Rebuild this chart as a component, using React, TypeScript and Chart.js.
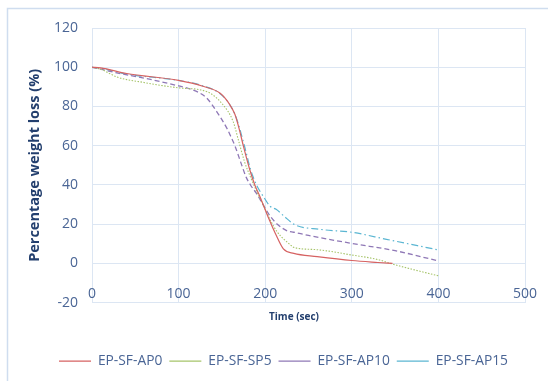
import React, { useEffect, useRef } from "react";
import { Chart, registerables } from "chart.js";

Chart.register(...registerables);

const seriesNames = ["EP-SF-AP0", "EP-SF-SP5", "EP-SF-AP10", "EP-SF-AP15"];

const ap0Time = [0, 10, 40, 100, 128, 148, 159, 165, 170, 175, 182, 188, 194, 198, 204, 212, 221, 233, 260, 300, 330, 347];
const ap0Loss = [100, 99.7, 96.8, 93.3, 90.3, 86.7, 81, 76, 68.5, 59.5, 48, 40, 34, 29.6, 23, 15, 7.4, 5.1, 3.5, 1.5, 0.5, 0];

const sp5Time = [0, 10, 29, 59, 100, 133, 151, 163, 169, 176, 184, 191, 198, 206, 214, 229, 233, 260, 300, 330, 347, 370, 400];
const sp5Loss = [100, 99, 95, 92.3, 89.5, 87.5, 81, 72.3, 63, 52, 43, 36, 29.6, 22, 16, 9.5, 8.2, 7, 4.3, 2, -0.3, -3, -6.3];

const ap10Time = [0, 30, 60, 100, 113, 132, 144, 156, 160, 165, 173, 178, 183, 191, 198, 206, 214, 226, 233, 250, 300, 350, 399];
const ap10Loss = [100, 97, 94.5, 90.5, 89, 84.5, 77.4, 68.7, 65, 60, 50, 44, 40, 35, 29.6, 24, 20, 16.5, 15.9, 14.3, 10.2, 6.5, 1.4];

const ap15Time = [0, 10, 40, 100, 128, 148, 159, 166, 176, 183, 190, 198, 206, 213, 222, 234, 263, 300, 340, 401];
const ap15Loss = [100, 99.5, 96.5, 93.3, 90.5, 86.5, 81, 75, 60, 48, 40, 34, 29, 27.5, 24, 19.8, 17.4, 15.9, 12.3, 6.8];

const xTicks = [0, 100, 200, 300, 400, 500];
const yTicks = [-20, 0, 20, 40, 60, 80, 100, 120];

const xTitle = "Time (sec)";
const yTitle = "Percentage weight loss (%)";

const toPoints = (xs: number[], ys: number[]) => xs.map((x, i) => ({ x, y: ys[i] }));

const tickColor = "#4A6595";
const titleColor = "#233F6E";
const gridColor = "#DCE6F3";

export default function App() {
  const canvasRef = useRef<HTMLCanvasElement | null>(null);

  useEffect(() => {
    if (!canvasRef.current) return;

    const framePlugin = {
      id: "frame",
      beforeDraw(chart: any) {
        const ctx = chart.ctx;
        ctx.save();
        ctx.fillStyle = "#ffffff";
        ctx.fillRect(0, 0, chart.width, chart.height);
        ctx.strokeStyle = "#CFDDEF";
        ctx.lineWidth = 1.5;
        ctx.strokeRect(7.5, 8.5, 700, 500);
        ctx.restore();
      },
      afterDraw(chart: any) {
        const ctx = chart.ctx;
        ctx.save();
        ctx.fillStyle = titleColor;
        ctx.font = "bold 10px 'Open Sans'";
        ctx.textAlign = "center";
        ctx.textBaseline = "middle";
        ctx.fillText(xTitle, 294, 317);
        ctx.restore();
      },
    };

    const chart = new Chart(canvasRef.current, {
      type: "line",
      data: {
        datasets: [
          {
            label: seriesNames[0],
            data: toPoints(ap0Time, ap0Loss),
            borderColor: "#D66262",
            borderWidth: 1.2,
          },
          {
            label: seriesNames[1],
            data: toPoints(sp5Time, sp5Loss),
            borderColor: "#A6C46A",
            borderWidth: 1.1,
            borderDash: [1.5, 1.5],
          },
          {
            label: seriesNames[2],
            data: toPoints(ap10Time, ap10Loss),
            borderColor: "#8F78B6",
            borderWidth: 1.3,
            borderDash: [5, 3],
          },
          {
            label: seriesNames[3],
            data: toPoints(ap15Time, ap15Loss),
            borderColor: "#5BB6D2",
            borderWidth: 1.2,
            borderDash: [7, 3, 1.5, 3],
          },
        ],
      },
      options: {
        responsive: false,
        animation: false,
        elements: {
          point: { radius: 0 },
          line: { cubicInterpolationMode: "monotone", fill: false },
        },
        layout: { padding: { left: 42, right: 23, top: 28, bottom: 3 } },
        plugins: {
          legend: {
            position: "bottom",
            labels: {
              usePointStyle: true,
              pointStyle: "line",
              pointStyleWidth: 32,
              padding: 7,
              color: tickColor,
              font: { family: "'Open Sans'", size: 13.8 },
            },
          },
          tooltip: { enabled: false },
        },
        scales: {
          x: {
            type: "linear",
            min: xTicks[0],
            max: xTicks[xTicks.length - 1],
            afterBuildTicks: (s: any) => {
              s.ticks = xTicks.map((v) => ({ value: v }));
            },
            afterFit: (s: any) => {
              s.height = 44.5;
            },
            grid: { color: gridColor, lineWidth: 1, drawTicks: false },
            border: { display: false },
            ticks: {
              mirror: true,
              padding: 0,
              color: tickColor,
              font: { family: "'Open Sans'", size: 14 },
              maxRotation: 0,
              autoSkip: false,
            },
          },
          y: {
            type: "linear",
            min: yTicks[0],
            max: yTicks[yTicks.length - 1],
            afterBuildTicks: (s: any) => {
              s.ticks = yTicks.map((v) => ({ value: v }));
            },
            afterFit: (s: any) => {
              s.width = 50;
            },
            grid: { color: gridColor, lineWidth: 1, drawTicks: false },
            border: { display: false },
            ticks: {
              padding: 14,
              color: tickColor,
              font: { family: "'Open Sans'", size: 14 },
            },
            title: {
              display: true,
              text: yTitle,
              color: titleColor,
              font: { family: "'Open Sans'", size: 14.5, weight: "bold" },
              padding: { top: -16, bottom: 0 },
            },
          },
        },
      },
      plugins: [framePlugin],
    } as any);

    return () => chart.destroy();
  }, []);

  return (
    <div style={{ position: "absolute", left: 0, top: 0, width: 548, height: 381, overflow: "hidden" }}>
      <canvas ref={canvasRef} width={548} height={381} style={{ display: "block" }} />
    </div>
  );
}
